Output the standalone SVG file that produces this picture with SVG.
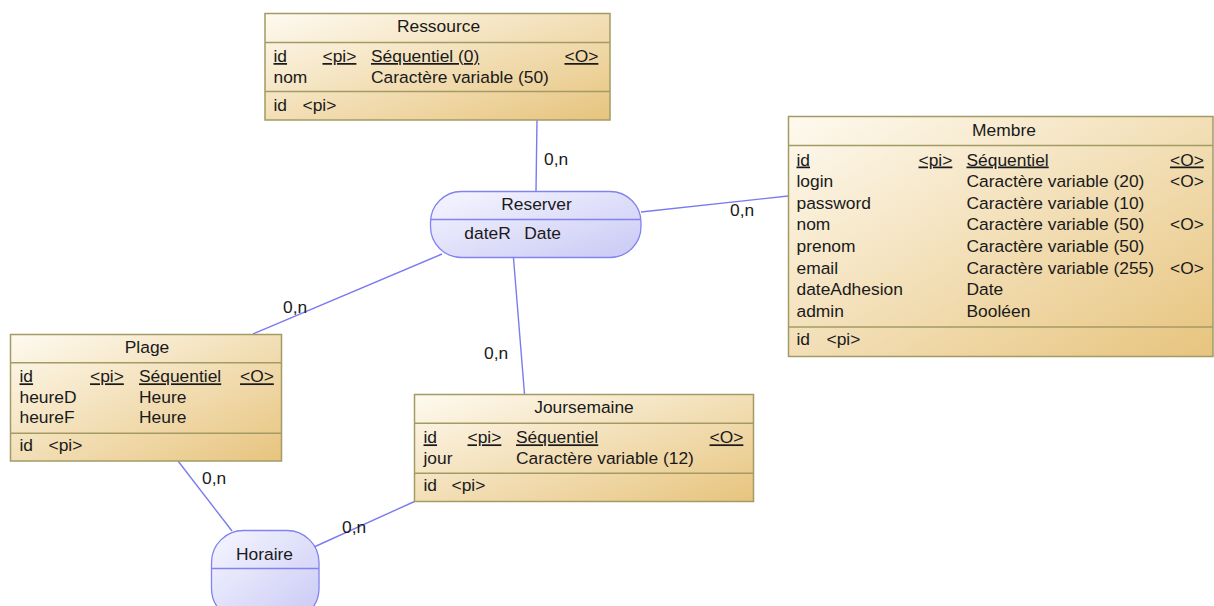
<svg xmlns="http://www.w3.org/2000/svg" width="1214" height="606" viewBox="0 0 1214 606">
  <defs>
    <linearGradient id="entFill" x1="0" y1="0" x2="1" y2="1">
      <stop offset="0" stop-color="#fefaf0"/>
      <stop offset="1" stop-color="#e7c47e"/>
    </linearGradient>
    <linearGradient id="assoFill" x1="0" y1="0" x2="1" y2="1">
      <stop offset="0" stop-color="#f6f6ff"/>
      <stop offset="1" stop-color="#c9c9f5"/>
    </linearGradient>
  </defs>
  <style>
    text { font-family: "Liberation Sans", Arial, sans-serif; font-size: 17.4px; fill: #1a1a1a; }
    .title { text-anchor: middle; }
    .u { text-decoration: underline; }
    .ent { fill: url(#entFill); stroke: #a39b63; stroke-width: 1.5; }
    .sep { stroke: #a39b63; stroke-width: 1.5; }
    .asso { fill: url(#assoFill); stroke: #8282f0; stroke-width: 1.3; }
    .asep { stroke: #8282f0; stroke-width: 1.3; }
    .link { stroke: #7b7bf0; stroke-width: 1.4; fill: none; }
  </style>

  <!-- connectors between entities and associations -->
  <g id="connectors">
    <line class="link" x1="537" y1="120" x2="536" y2="191"/>
    <line class="link" x1="641" y1="212" x2="788" y2="196"/>
    <line class="link" x1="442" y1="254" x2="253" y2="334"/>
    <line class="link" x1="513.5" y1="258" x2="524.5" y2="394"/>
    <line class="link" x1="178" y1="461" x2="232" y2="531"/>
    <line class="link" x1="314" y1="547" x2="414.5" y2="501.5"/>
    <text x="544" y="165">0,n</text>
    <text x="730" y="216">0,n</text>
    <text x="283" y="313">0,n</text>
    <text x="484" y="359">0,n</text>
    <text x="202" y="484">0,n</text>
    <text x="342" y="532.5">0,n</text>
  </g>

  <!-- entity: Ressource -->
  <g id="ressource">
    <rect class="ent" x="265" y="13.5" width="345" height="106.5"/>
    <line class="sep" x1="265" y1="42.5" x2="610" y2="42.5"/>
    <line class="sep" x1="265" y1="91.5" x2="610" y2="91.5"/>
    <text class="title" x="438.5" y="31.5">Ressource</text>
    <text class="u" x="273.5" y="62">id</text>
    <text class="u" x="322.5" y="62">&lt;pi&gt;</text>
    <text class="u" x="371" y="62">Séquentiel (0)</text>
    <text class="u" x="564.5" y="62">&lt;O&gt;</text>
    <text x="273.5" y="83">nom</text>
    <text x="371" y="83">Caractère variable (50)</text>
    <text x="273.5" y="110.5">id</text>
    <text x="302.5" y="110.5">&lt;pi&gt;</text>
  </g>

  <!-- entity: Membre -->
  <g id="membre">
    <rect class="ent" x="788.5" y="116.5" width="424.5" height="240"/>
    <line class="sep" x1="788.5" y1="145.5" x2="1213" y2="145.5"/>
    <line class="sep" x1="788.5" y1="327" x2="1213" y2="327"/>
    <text class="title" x="1004" y="136">Membre</text>
    <text class="u" x="796.5" y="165.5">id</text>
    <text class="u" x="918.5" y="165.5">&lt;pi&gt;</text>
    <text class="u" x="966.5" y="165.5">Séquentiel</text>
    <text class="u" x="1170" y="165.5">&lt;O&gt;</text>
    <text x="796.5" y="187">login</text>
    <text x="966.5" y="187">Caractère variable (20)</text>
    <text x="1170" y="187">&lt;O&gt;</text>
    <text x="796.5" y="208.7">password</text>
    <text x="966.5" y="208.7">Caractère variable (10)</text>
    <text x="796.5" y="230.4">nom</text>
    <text x="966.5" y="230.4">Caractère variable (50)</text>
    <text x="1170" y="230.4">&lt;O&gt;</text>
    <text x="796.5" y="252">prenom</text>
    <text x="966.5" y="252">Caractère variable (50)</text>
    <text x="796.5" y="273.7">email</text>
    <text x="966.5" y="273.7">Caractère variable (255)</text>
    <text x="1170" y="273.7">&lt;O&gt;</text>
    <text x="796.5" y="295.4">dateAdhesion</text>
    <text x="966.5" y="295.4">Date</text>
    <text x="796.5" y="317">admin</text>
    <text x="966.5" y="317">Booléen</text>
    <text x="796.5" y="344.5">id</text>
    <text x="826.5" y="344.5">&lt;pi&gt;</text>
  </g>

  <!-- entity: Plage -->
  <g id="plage">
    <rect class="ent" x="10.5" y="334.5" width="271" height="126.5"/>
    <line class="sep" x1="10.5" y1="362.7" x2="281.5" y2="362.7"/>
    <line class="sep" x1="10.5" y1="433.3" x2="281.5" y2="433.3"/>
    <text class="title" x="147" y="353">Plage</text>
    <text class="u" x="19.5" y="382.3">id</text>
    <text class="u" x="90" y="382.3">&lt;pi&gt;</text>
    <text class="u" x="139" y="382.3">Séquentiel</text>
    <text class="u" x="240" y="382.3">&lt;O&gt;</text>
    <text x="19.5" y="402.5">heureD</text>
    <text x="139" y="402.5">Heure</text>
    <text x="19.5" y="422.7">heureF</text>
    <text x="139" y="422.7">Heure</text>
    <text x="19.5" y="451">id</text>
    <text x="48.5" y="451">&lt;pi&gt;</text>
  </g>

  <!-- entity: Joursemaine -->
  <g id="joursemaine">
    <rect class="ent" x="414.5" y="394.5" width="339" height="107"/>
    <line class="sep" x1="414.5" y1="423.3" x2="753.5" y2="423.3"/>
    <line class="sep" x1="414.5" y1="473.3" x2="753.5" y2="473.3"/>
    <text class="title" x="584" y="413">Joursemaine</text>
    <text class="u" x="423.5" y="443.3">id</text>
    <text class="u" x="467.5" y="443.3">&lt;pi&gt;</text>
    <text class="u" x="516" y="443.3">Séquentiel</text>
    <text class="u" x="709.5" y="443.3">&lt;O&gt;</text>
    <text x="423.5" y="463.5">jour</text>
    <text x="516" y="463.5">Caractère variable (12)</text>
    <text x="423.5" y="491">id</text>
    <text x="451.5" y="491">&lt;pi&gt;</text>
  </g>

  <!-- association: Reserver -->
  <g id="reserver">
    <rect class="asso" x="430.5" y="191.5" width="210.5" height="66" rx="31" ry="31"/>
    <line class="asep" x1="430.5" y1="219.5" x2="641" y2="219.5"/>
    <text class="title" x="536.5" y="210">Reserver</text>
    <text x="464.3" y="238.5">dateR</text>
    <text x="524.3" y="238.5">Date</text>
  </g>

  <!-- association: Horaire -->
  <g id="horaire">
    <rect class="asso" x="211.5" y="530.5" width="107.5" height="90" rx="32" ry="32"/>
    <line class="asep" x1="211.5" y1="568.5" x2="319" y2="568.5"/>
    <text class="title" x="264.5" y="560">Horaire</text>
  </g>
</svg>
